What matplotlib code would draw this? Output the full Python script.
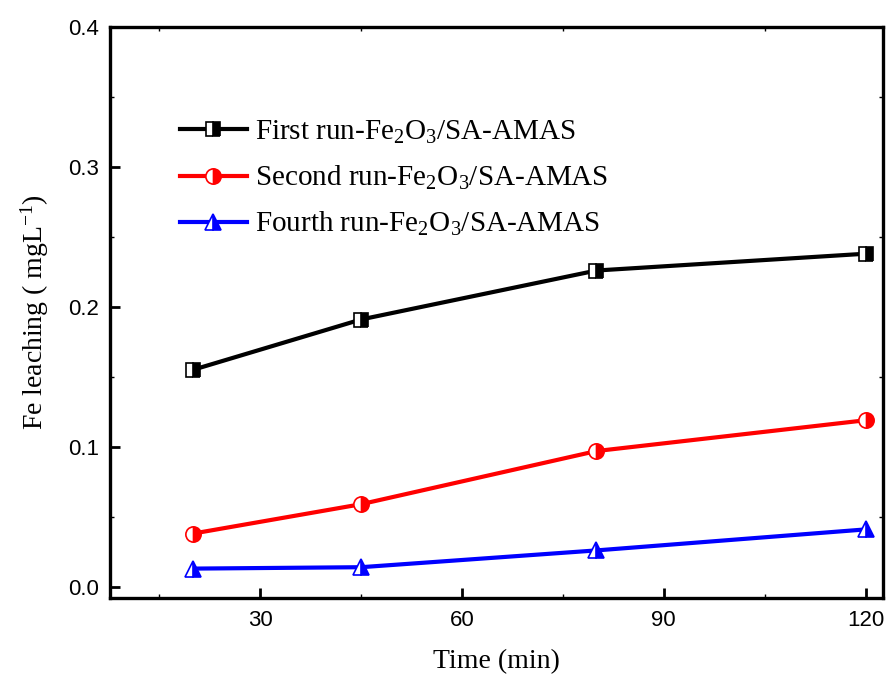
import matplotlib
matplotlib.use("Agg")
import matplotlib.pyplot as plt
from matplotlib.ticker import MultipleLocator

time = [20, 45, 80, 120]
first_run = [0.155, 0.191, 0.226, 0.238]
second_run = [0.038, 0.059, 0.097, 0.119]
fourth_run = [0.013, 0.014, 0.026, 0.041]
labels = ["First run-Fe$_2$O$_3$/SA-AMAS",
          "Second run-Fe$_2$O$_3$/SA-AMAS",
          "Fourth run-Fe$_2$O$_3$/SA-AMAS"]

plt.rcParams['mathtext.fontset'] = 'custom'
plt.rcParams['mathtext.rm'] = 'Liberation Serif'
plt.rcParams['mathtext.default'] = 'regular'

fig = plt.figure(figsize=(8.93, 6.77), dpi=100)
ax = fig.add_axes([0.1232, 0.1167, 0.8656, 0.8434])

series = [(first_run, 'black', 's', 10), (second_run, 'red', 'o', 11), (fourth_run, 'blue', '^', 11)]
for (vals, col, mk, ms), lab in zip(series, labels):
    ax.plot(time, vals, color=col, lw=3, marker=mk, ms=ms, fillstyle='right',
            markerfacecolor=col, markerfacecoloralt='white', markeredgecolor=col,
            markeredgewidth=1.2, label=lab)

ax.set_xlim(7.7, 122.6)
ax.set_ylim(-0.008, 0.4)
ax.xaxis.set_major_locator(MultipleLocator(30))
ax.xaxis.set_minor_locator(MultipleLocator(15))
ax.yaxis.set_major_locator(MultipleLocator(0.1))
ax.yaxis.set_minor_locator(MultipleLocator(0.05))

for s in ax.spines.values():
    s.set_linewidth(2.4)

ax.tick_params(which='major', direction='in', length=7, width=2, labelsize=16,
               top=False, right=False)
ax.tick_params(which='minor', direction='in', length=3, width=1, top=True, right=True)
ax.tick_params(axis='x', pad=9)
ax.tick_params(axis='y', pad=8)
for t in ax.get_xticklabels() + ax.get_yticklabels():
    t.set_fontfamily('Liberation Sans')

ax.set_xlabel("Time (min)", fontfamily='Liberation Serif', fontsize=20, labelpad=13)
ax.set_ylabel("Fe leaching ( mgL$^{-1}$)", fontfamily='Liberation Serif', fontsize=20, labelpad=12)

leg = ax.legend(loc='upper left', bbox_to_anchor=(0.075, 0.86), frameon=False,
                prop={'family': 'Liberation Serif', 'size': 21},
                handlelength=2.3, handletextpad=0.3, labelspacing=0.62,
                borderaxespad=0)

fig.savefig("out.png", dpi=100)
